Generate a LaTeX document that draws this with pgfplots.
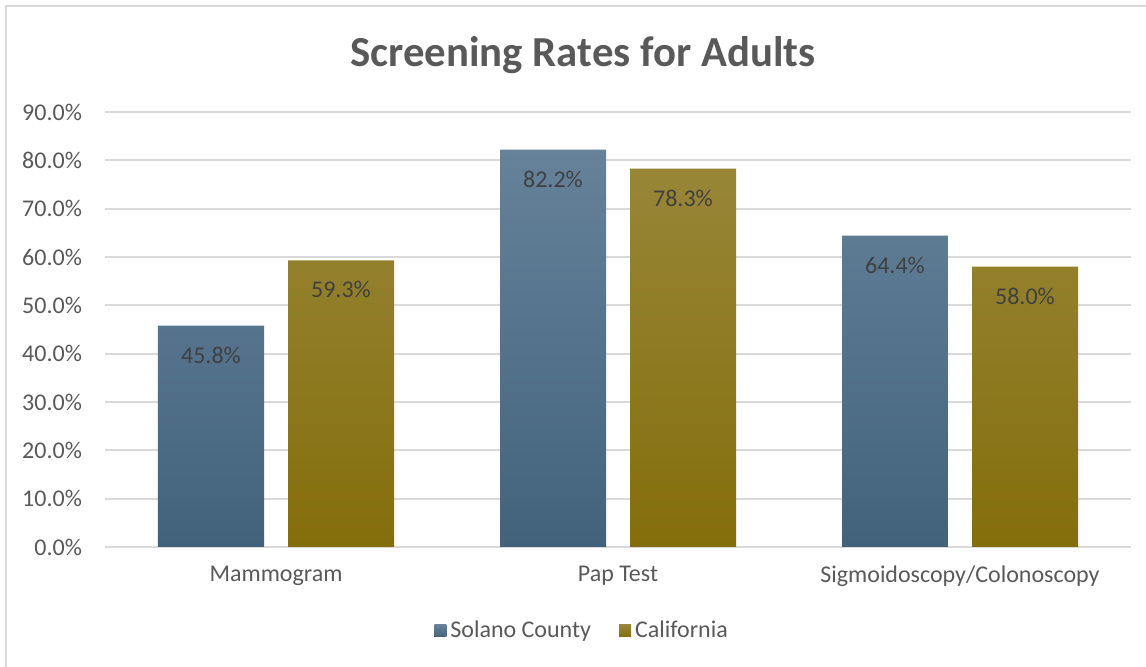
\documentclass[border=0pt]{standalone}
\usepackage{fontspec}
\setmainfont{Carlito}
\usepackage{pgfplots}
\pgfplotsset{compat=1.18}
\definecolor{gridgray}{HTML}{D9D9D9}
\definecolor{txtgray}{HTML}{595959}
\definecolor{lblgray}{HTML}{404040}
\definecolor{blueTop}{HTML}{66829B}
\definecolor{blueBot}{HTML}{42627C}
\definecolor{oliveTop}{HTML}{988638}
\definecolor{oliveBot}{HTML}{846E0B}
\begin{document}
\begin{tikzpicture}
\useasboundingbox (0,0) rectangle (573pt,333.5pt);
% outer chart frame
\draw[gridgray, line width=0.8pt] (3pt,-5pt) rectangle (580pt,330.5pt);
\node[font=\bfseries\fontsize{21.4}{24}\selectfont, text=txtgray] at (291.5pt,306pt) {Screening Rates for Adults};
\begin{axis}[
    at={(52.5pt,60pt)}, anchor=south west,
    scale only axis,
    width=513pt, height=217.5pt,
    xmin=-0.5, xmax=2.5,
    ymin=0, ymax=90,
    ybar=12pt,
    bar width=53pt,
    xtick={0,1,2},
    xticklabels={Mammogram, Pap Test, Sigmoidoscopy/Colonoscopy},
    ytick={0,10,...,90},
    yticklabel={\pgfmathprintnumber[fixed,fixed zerofill,precision=1]{\tick}\%},
    /pgf/number format/assume math mode=true,
    ymajorgrids,
    grid style={gridgray, line width=1pt},
    axis lines*=left,
    x axis line style={gridgray, line width=1pt},
    y axis line style={draw=none},
    major tick length=0pt,
    tick label style={font=\fontsize{12}{14}\selectfont, text=txtgray},
    yticklabel style={xshift=-8pt},
    xticklabel style={yshift=-6pt},
    nodes near coords={\pgfmathprintnumber[fixed,fixed zerofill,precision=1]{\pgfplotspointmeta}\%},
    every node near coord/.append style={anchor=north, yshift=-7pt,
        font=\fontsize{12}{14}\selectfont, text=lblgray},
    legend style={at={(0.466,-0.193)}, anchor=center, draw=none,
        legend columns=2, font=\fontsize{12}{14}\selectfont, text=txtgray,
        /tikz/every even column/.append style={column sep=12pt}},
    legend image code/.code={\fill[#1, draw=none] (0pt,-3pt) rectangle (6pt,3pt);},
]
\addplot[draw=none, top color=blueTop, bottom color=blueBot]
    coordinates {(0,45.8) (1,82.2) (2,64.4)};
\addlegendentry{Solano County}
\addplot[draw=none, top color=oliveTop, bottom color=oliveBot]
    coordinates {(0,59.3) (1,78.3) (2,58.0)};
\addlegendentry{California}
\end{axis}
\end{tikzpicture}
\end{document}
